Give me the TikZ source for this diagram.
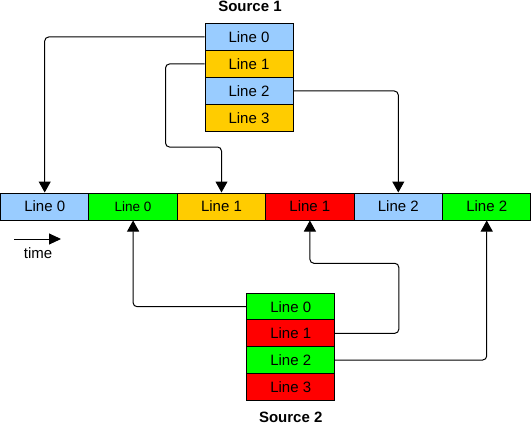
\documentclass[tikz,border=0pt]{standalone}
\usepackage{fontspec}
\setmainfont{Liberation Sans}
\usetikzlibrary{arrows.meta}
\definecolor{lblue}{HTML}{99CCFF}
\definecolor{lorange}{HTML}{FFCC00}
\definecolor{lgreen}{HTML}{00FF00}
\definecolor{lred}{HTML}{FF0000}
\tikzset{
  cell/.style={draw=black, line width=1pt, minimum width=88pt, minimum height=27pt, inner sep=0pt, font=\fontsize{15}{17}\selectfont},
  tcell/.style={cell, minimum width=88.4pt},
  scell/.style={cell, minimum height=26.7pt},
  conn/.style={line width=1pt, rounded corners=4pt, -{Triangle[width=12pt,length=11pt]}},
  title/.style={font=\bfseries\fontsize{15}{17}\selectfont, inner sep=0pt},
  plain/.style={font=\fontsize{15}{17}\selectfont, inner sep=0pt}
}
\begin{document}
\begin{tikzpicture}[x=1pt,y=-1pt]
\useasboundingbox (0,0) rectangle (532,425);
% Source 1
\node[title] (src1) at (250,6.5) {Source 1};
\node[cell, fill=lblue]   (s1a) at (249,37)   {Line 0};
\node[cell, fill=lorange] (s1b) at (249,64)   {Line 1};
\node[cell, fill=lblue]   (s1c) at (249,91)   {Line 2};
\node[cell, fill=lorange] (s1d) at (249,117.8) {Line 3};
% Timeline
\node[tcell, fill=lblue]   (t1) at (44.7,206.5)  {Line 0};
\node[tcell, fill=lgreen, font=\fontsize{13.5}{16}\selectfont]  (t2) at (133.1,206.5) {Line 0};
\node[tcell, fill=lorange] (t3) at (221.5,206.5) {Line 1};
\node[tcell, fill=lred]    (t4) at (309.9,206.5) {Line 1};
\node[tcell, fill=lblue]   (t5) at (398.3,206.5) {Line 2};
\node[tcell, fill=lgreen]  (t6) at (486.7,206.5) {Line 2};
% Source 2
\node[scell, fill=lgreen] (s2a) at (290.7,306.7) {Line 0};
\node[scell, fill=lred]   (s2b) at (290.7,333.3) {Line 1};
\node[scell, fill=lgreen] (s2c) at (290.7,360)   {Line 2};
\node[scell, fill=lred]   (s2d) at (290.7,386.7) {Line 3};
\node[title] (src2) at (290.7,417) {Source 2};
% time arrow
\coordinate (ts) at (14,239);
\coordinate (te) at (61,239);
\draw[line width=1pt, -{Triangle[width=11pt,length=12pt]}] (ts) -- (te);
\node[plain] (time) at (38,253.5) {time};
% connectors from source 1
\draw[conn] (s1a.west) -| (t1.north);
\draw[conn] (s1b.west) -- ++(-39,0) -- ++(0,83) -| (t3.north);
\draw[conn] (s1c.east) -| (t5.north);
% connectors from source 2
\draw[conn] (s2a.west) -| (t2.south);
\draw[conn] (s2b.east) -- ++(63.6,0) -- ++(0,-70) -| (t4.south);
\draw[conn] (s2c.east) -| (t6.south);
\end{tikzpicture}
\end{document}
